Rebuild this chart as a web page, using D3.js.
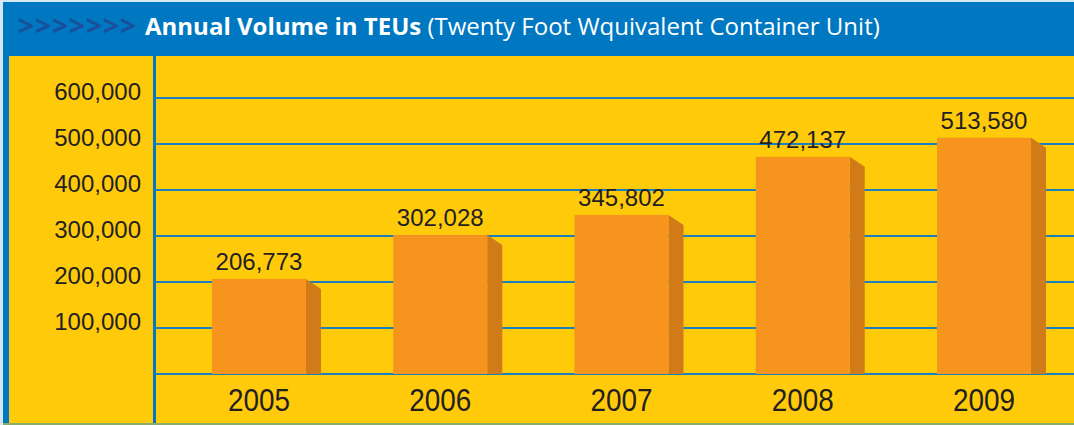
<!DOCTYPE html>
<html lang="en">
<head>
<meta charset="utf-8">
<title>Annual Volume in TEUs</title>
<script src="https://cdnjs.cloudflare.com/ajax/libs/d3/7.8.5/d3.min.js"></script>
<style>
  body { margin: 0; background: #ffffff; }
  svg { display: block; }
</style>
</head>
<body>
<script>
// data
var years = ["2005", "2006", "2007", "2008", "2009"];
var volumes = [206773, 302028, 345802, 472137, 513580];
var yTicks = [100000, 200000, 300000, 400000, 500000, 600000];
var titleBold = "Annual Volume in TEUs";
var titleRest = " (Twenty Foot Wquivalent Container Unit)";

var w = 1074, h = 425;
var headFont = "'Open Sans', sans-serif";
var numFont = "'Liberation Sans', Arial, sans-serif";

var svg = d3.select("body").append("svg")
  .attr("width", w)
  .attr("height", h);

// frame
svg.append("rect").attr("x", 0).attr("y", 0).attr("width", w).attr("height", h).attr("fill", "#d6e6f2");
svg.append("rect").attr("x", 3).attr("y", 2).attr("width", w - 3).attr("height", h - 4).attr("fill", "#0078c1");
svg.append("rect").attr("x", 9).attr("y", 56).attr("width", w - 9).attr("height", h - 58).attr("fill", "#ffca0a");
svg.append("rect").attr("x", 3).attr("y", h - 2).attr("width", w - 3).attr("height", 2).attr("fill", "#8aab6a");

// header
svg.append("text")
  .attr("x", 18)
  .attr("y", 36)
  .attr("font-family", headFont)
  .attr("font-size", "28px")
  .attr("font-weight", "bold")
  .attr("letter-spacing", "1px")
  .attr("fill", "#1a4f9c")
  .text(">>>>>>>");

var title = svg.append("text")
  .attr("x", 145)
  .attr("y", 35)
  .attr("font-family", headFont)
  .attr("font-size", "24px")
  .attr("fill", "#ffffff");
title.append("tspan").text(titleBold).attr("font-weight", "bold");
title.append("tspan").text(titleRest);

// scales
var x = d3.scaleBand()
  .domain(years)
  .range([212, 1031])
  .paddingInner(0.4814)
  .paddingOuter(0);

var y = d3.scaleLinear()
  .domain([0, 600000])
  .range([374, 98]);

// gridlines
svg.append("g")
  .selectAll("line")
  .data([0].concat(yTicks))
  .enter()
  .append("line")
  .attr("x1", 156)
  .attr("x2", w)
  .attr("y1", function(d) { return y(d); })
  .attr("y2", function(d) { return y(d); })
  .attr("stroke", "#1c7fc0")
  .attr("stroke-width", 2);

// divider
svg.append("rect").attr("x", 153).attr("y", 56).attr("width", 3).attr("height", h - 58).attr("fill", "#0078c1");

// y axis labels
var yAxis = d3.axisLeft(y)
  .tickValues(yTicks)
  .tickSize(0)
  .tickPadding(0)
  .tickFormat(d3.format(","));

var yg = svg.append("g")
  .attr("transform", "translate(141,0)")
  .call(yAxis);
yg.select(".domain").remove();
yg.selectAll("text")
  .attr("font-family", numFont)
  .attr("font-size", "24px")
  .attr("fill", "#231f20")
  .attr("dy", "0.05em");

// bars
var depth = 15, slant = 10;
var bars = svg.append("g").selectAll("g")
  .data(years)
  .enter()
  .append("g");

bars.append("path")
  .attr("d", function(d, i) {
    var x1 = x(d) + x.bandwidth(), t = y(volumes[i]), b = y(0);
    return "M" + x1 + "," + t + "L" + (x1 + depth) + "," + (t + slant) + "L" + (x1 + depth) + "," + b + "L" + x1 + "," + b + "Z";
  })
  .attr("fill", "#d07b17");

bars.append("rect")
  .attr("x", function(d) { return x(d); })
  .attr("y", function(d, i) { return y(volumes[i]); })
  .attr("width", x.bandwidth())
  .attr("height", function(d, i) { return y(0) - y(volumes[i]); })
  .attr("fill", "#f7941e");

// value labels
bars.append("text")
  .attr("x", function(d) { return x(d) + x.bandwidth() / 2; })
  .attr("y", function(d, i) { return y(volumes[i]) - 9; })
  .attr("text-anchor", "middle")
  .attr("font-family", numFont)
  .attr("font-size", "24px")
  .attr("fill", "#231f20")
  .text(function(d, i) { return d3.format(",")(volumes[i]); });

// year labels (narrowed to match original condensed face)
bars.append("text")
  .attr("x", function(d) { return x(d) + x.bandwidth() / 2 - 31; })
  .attr("y", 411)
  .attr("font-family", numFont)
  .attr("font-size", "31px")
  .attr("textLength", 62)
  .attr("lengthAdjust", "spacingAndGlyphs")
  .attr("fill", "#231f20")
  .text(function(d) { return d; });
</script>
</body>
</html>
